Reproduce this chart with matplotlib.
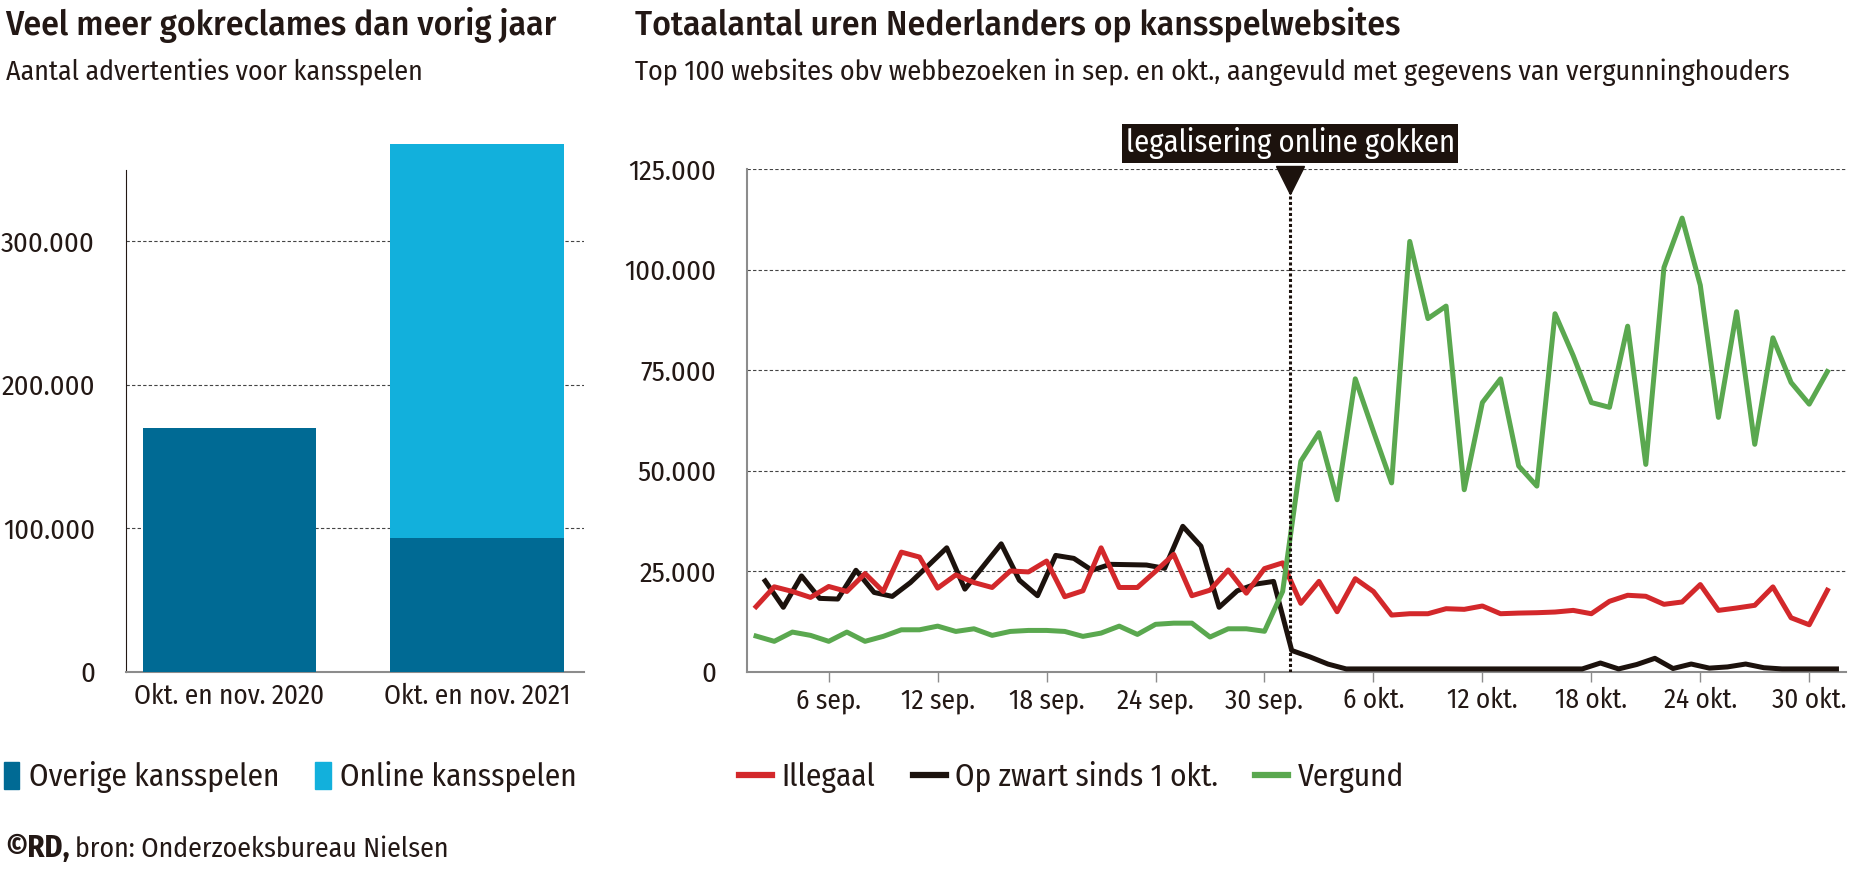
import pandas as pd
import matplotlib
matplotlib.use('Agg')
import matplotlib.pyplot as plt
from matplotlib.patches import Patch
from matplotlib.lines import Line2D
from matplotlib.ticker import FuncFormatter

plt.rcParams['font.family'] = ['Fira Sans Condensed', 'DejaVu Sans']
plt.rcParams['text.color'] = '#231815'
plt.rcParams['xtick.color'] = '#231815'
plt.rcParams['ytick.color'] = '#231815'

# links: advertenties
perioden = ['Okt. en nov. 2020', 'Okt. en nov. 2021']
overige = [170000, 93000]
online = [0, 275000]

# rechts: uren per dag
datums = pd.date_range('2021-09-02', '2021-10-31', freq='D')
illegaal = [16200, 21140, 19980, 18500, 21220, 19980, 24430, 19980, 29770, 28540,
            20810, 24100, 22200, 20970, 25080, 24840, 27550, 18670, 20150, 30840,
            20970, 20970, 25000, 29200, 18920, 20310, 25330, 19550, 25670,
            27100, 17030, 22490, 14930, 23160, 19970, 14100, 14440, 14440, 15690,
            15530, 16360, 14440, 14600, 14690, 14860, 15270, 14440, 17530, 19030,
            18780, 16780, 17360, 21700, 15270, 15860, 16530, 21120, 13440, 11690, 20280]
op_zwart = [22600, 16040, 23850, 18260, 18090, 25250, 19740, 18750, 22200, 26500,
            30840, 20560, 26200, 31830, 22780, 18920, 28950, 28210, 25250, 26730,
            26650, 26560, 25740, 36190, 31250, 16040, 20150, 21800, 22480,
            5290, 3700, 1900, 700, 700, 700, 700, 700, 700, 700,
            700, 700, 700, 700, 700, 700, 700, 2170, 700, 1800,
            3340, 800, 1920, 900, 1200, 1920, 1000, 700, 700, 700, 700]
vergund = [8880, 7570, 9870, 9050, 7570, 9870, 7570, 8800, 10440, 10440,
           11350, 10030, 10690, 9050, 10030, 10280, 10280, 10030, 8800, 9620,
           11350, 9290, 11800, 12090, 12090, 8640, 10690, 10690, 10070,
           20000, 52400, 59500, 42800, 72900, 59800, 47000, 107100, 87900, 91000,
           45300, 67000, 72900, 51200, 46200, 89100, 78700, 67000, 65800, 86000,
           51600, 100600, 112900, 96200, 63300, 89600, 56600, 83100, 72000, 66600, 74700]

tick_datums = pd.to_datetime(['2021-09-06', '2021-09-12', '2021-09-18', '2021-09-24', '2021-09-30',
                              '2021-10-06', '2021-10-12', '2021-10-18', '2021-10-24', '2021-10-30'])
tick_labels = ['6 sep.', '12 sep.', '18 sep.', '24 sep.', '30 sep.',
               '6 okt.', '12 okt.', '18 okt.', '24 okt.', '30 okt.']
legalisering = pd.Timestamp('2021-10-01 10:00')

donker = '#006a94'
licht = '#12b0dc'
rood = '#d3282b'
zwart = '#1c120d'
groen = '#5aa84f'
grijs = '#8c8c8c'

def punten(v, pos):
    return f'{int(v):,}'.replace(',', '.')

fig = plt.figure(figsize=(18.55, 8.75), dpi=100)

# ---- staafdiagram ----
ax1 = fig.add_axes([0.0677, 0.2322, 0.2469, 0.5738])
x = range(len(perioden))
ax1.bar(x, overige, width=0.7, color=donker, zorder=3, clip_on=False)
ax1.bar(x, online, width=0.7, bottom=overige, color=licht, zorder=3, clip_on=False)
ax1.set_xlim(-0.42, 1.43)
ax1.set_ylim(0, 350000)
ax1.set_yticks([0, 100000, 200000, 300000])
ax1.yaxis.set_major_formatter(FuncFormatter(punten))
ax1.set_xticks(list(x))
ax1.set_xticklabels(perioden)
ax1.yaxis.grid(True, linestyle=(0, (3, 2)), color='#444444', lw=0.8, zorder=0)
ax1.tick_params(axis='both', length=0)
ax1.tick_params(axis='y', pad=22, labelsize=20.5)
ax1.tick_params(axis='x', pad=8, labelsize=19.5)
for s in ['top', 'right']:
    ax1.spines[s].set_visible(False)
ax1.spines['left'].set_color('#231815')
ax1.spines['left'].set_linewidth(0.8)
ax1.spines['bottom'].set_color(grijs)
ax1.spines['bottom'].set_linewidth(1.5)

# ---- lijndiagram ----
ax2 = fig.add_axes([0.4027, 0.2323, 0.5922, 0.574])
ax2.plot(datums, illegaal, color=rood, lw=3.6, zorder=4)
ax2.plot(datums + pd.Timedelta(hours=12), op_zwart, color=zwart, lw=3.6, zorder=3)
ax2.plot(datums, vergund, color=groen, lw=3.6, zorder=5)
ax2.set_xlim(pd.Timestamp('2021-09-01 12:00'), pd.Timestamp('2021-11-01'))
ax2.set_ylim(0, 125000)
ax2.set_yticks([0, 25000, 50000, 75000, 100000, 125000])
ax2.yaxis.set_major_formatter(FuncFormatter(punten))
ax2.set_xticks(tick_datums)
ax2.set_xticklabels(tick_labels)
ax2.yaxis.grid(True, linestyle=(0, (3, 2)), color='#444444', lw=0.8, zorder=0)
ax2.tick_params(axis='y', length=0, labelsize=20.5, pad=22)
ax2.tick_params(axis='x', length=7, width=1, color=grijs, labelsize=19.5, pad=4)
for s in ['top', 'right']:
    ax2.spines[s].set_visible(False)
for s in ['left', 'bottom']:
    ax2.spines[s].set_color(grijs)
    ax2.spines[s].set_linewidth(1.5)

ax2.plot([legalisering, legalisering], [0, 120000], color=zwart, lw=2.2,
         linestyle=(0, (1, 0.8)), zorder=6)
ax2.plot([legalisering], [122500], marker='v', markersize=20, color=zwart,
         clip_on=False, zorder=7)
ax2.annotate('legalisering online gokken', xy=(legalisering, 125000), xytext=(0, 26),
             textcoords='offset pixels', ha='center', va='center', color='white',
             fontsize=22, annotation_clip=False,
             bbox=dict(boxstyle='square,pad=0.12', fc=zwart, ec='none'))

# ---- titels ----
fig.text(0.003, 0.972, 'Veel meer gokreclames dan vorig jaar', fontsize=25.5,
         fontweight='medium', va='center')
fig.text(0.003, 0.917, 'Aantal advertenties voor kansspelen', fontsize=20, va='center')
fig.text(0.3423, 0.972, 'Totaalantal uren Nederlanders op kansspelwebsites', fontsize=25.5,
         fontweight='medium', va='center')
fig.text(0.3423, 0.917, 'Top 100 websites obv webbezoeken in sep. en okt., aangevuld met gegevens van vergunninghouders',
         fontsize=20.3, va='center')

# ---- legenda's ----
fig.legend(handles=[Patch(color=donker, label='Overige kansspelen'),
                    Patch(color=licht, label='Online kansspelen')],
           loc='center left', bbox_to_anchor=(0.002, 0.112), ncol=2, frameon=False,
           fontsize=22.5, handlelength=0.5, handleheight=0.95, handletextpad=0.3,
           columnspacing=1.15, borderpad=0, borderaxespad=0)
fig.legend(handles=[Line2D([], [], color=rood, lw=4.5, label='Illegaal'),
                    Line2D([], [], color=zwart, lw=4.5, label='Op zwart sinds 1 okt.'),
                    Line2D([], [], color=groen, lw=4.5, label='Vergund')],
           loc='center left', bbox_to_anchor=(0.3985, 0.112), ncol=3, frameon=False,
           fontsize=22.5, handlelength=1.05, handletextpad=0.3, columnspacing=1.2,
           borderpad=0, borderaxespad=0)

fig.text(0.003, 0.03, '©RD,', fontsize=22, fontweight='bold', va='center')
fig.text(0.0402, 0.03, 'bron: Onderzoeksbureau Nielsen', fontsize=20, va='center')

fig.savefig('out.png', dpi=100)
